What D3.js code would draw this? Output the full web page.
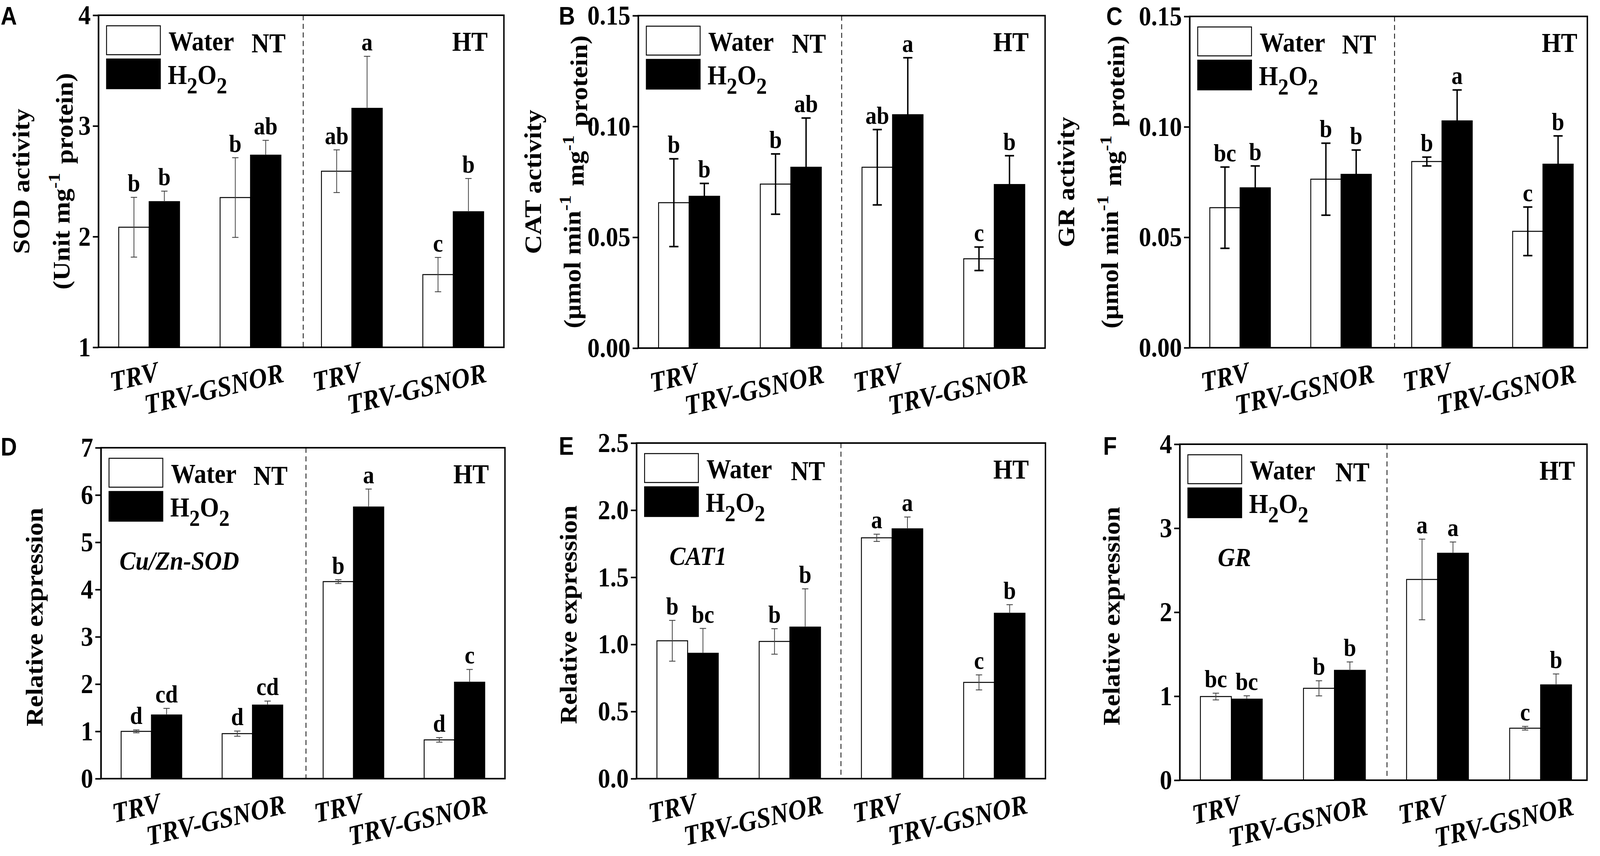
<!DOCTYPE html>
<html><head><meta charset="utf-8">
<script src="https://cdn.jsdelivr.net/npm/d3@7"></script>
<style>html,body{margin:0;padding:0;background:#fff;width:100%;height:100%;overflow:hidden;} svg{display:block;width:100vw;height:100vh;}</style>
</head><body>
<svg id="chart" viewBox="0 0 4550 2191" preserveAspectRatio="none"></svg>
<script>
// ---------- DATA ----------
const categories = ["TRV", "TRV-GSNOR", "TRV", "TRV-GSNOR"];
const seriesNames = ["Water", "H2O2"];
const conditions = ["NT", "HT"];

// A: SOD activity
const sodWater = [2.085, 2.353, 2.591, 1.657];
const sodWaterErr = [0.27, 0.36, 0.193, 0.155];
const sodH2O2 = [2.316, 2.736, 3.159, 2.225];
const sodH2O2Err = [0.095, 0.134, 0.47, 0.30];
const sodWaterSig = ["b", "b", "ab", "c"];
const sodH2O2Sig = ["b", "ab", "a", "b"];
const sodTicks = [1, 2, 3, 4];

// B: CAT activity
const catWater = [0.0656, 0.0740, 0.0816, 0.0403];
const catWaterErr = [0.0198, 0.0136, 0.017, 0.0053];
const catH2O2 = [0.0685, 0.0816, 0.1053, 0.0738];
const catH2O2Err = [0.0058, 0.0222, 0.0257, 0.013];
const catWaterSig = ["b", "b", "ab", "c"];
const catH2O2Sig = ["b", "ab", "a", "b"];
const catTicks = [0, 0.05, 0.10, 0.15];

// C: GR activity
const grWater = [0.0634, 0.0763, 0.0843, 0.0527];
const grWaterErr = [0.0184, 0.0163, 0.002, 0.011];
const grH2O2 = [0.0724, 0.0785, 0.1027, 0.0831];
const grH2O2Err = [0.0099, 0.011, 0.014, 0.0128];
const grWaterSig = ["bc", "b", "b", "c"];
const grH2O2Sig = ["b", "b", "a", "b"];
const grTicks = [0, 0.05, 0.10, 0.15];

// D: Cu/Zn-SOD expression
const sodExpWater = [1.00, 0.952, 4.168, 0.82];
const sodExpWaterErr = [0.03, 0.055, 0.04, 0.048];
const sodExpH2O2 = [1.347, 1.556, 5.746, 2.04];
const sodExpH2O2Err = [0.14, 0.085, 0.38, 0.27];
const sodExpWaterSig = ["d", "d", "b", "d"];
const sodExpH2O2Sig = ["cd", "cd", "a", "c"];
const sodExpTicks = [0, 1, 2, 3, 4, 5, 6, 7];

// E: CAT1 expression
const catExpWater = [1.027, 1.022, 1.794, 0.717];
const catExpWaterErr = [0.152, 0.095, 0.027, 0.056];
const catExpH2O2 = [0.934, 1.129, 1.861, 1.232];
const catExpH2O2Err = [0.185, 0.285, 0.088, 0.064];
const catExpWaterSig = ["b", "b", "a", "c"];
const catExpH2O2Sig = ["bc", "b", "a", "b"];
const catExpTicks = [0, 0.5, 1.0, 1.5, 2.0, 2.5];

// F: GR expression
const grExpWater = [0.996, 1.094, 2.39, 0.619];
const grExpWaterErr = [0.04, 0.09, 0.48, 0.022];
const grExpH2O2 = [0.965, 1.308, 2.702, 1.135];
const grExpH2O2Err = [0.04, 0.10, 0.134, 0.13];
const grExpWaterSig = ["bc", "b", "a", "c"];
const grExpH2O2Sig = ["bc", "b", "a", "b"];
const grExpTicks = [0, 1, 2, 3, 4];

// ---------- PANEL SETUP ----------
const SERIF = "'Liberation Serif','Times New Roman',serif";
const SANS = "'Liberation Sans',Arial,sans-serif";

const panels = [
  {letter: "A", water: sodWater, waterErr: sodWaterErr, h2o2: sodH2O2, h2o2Err: sodH2O2Err,
   waterSig: sodWaterSig, h2o2Sig: sodH2O2Sig, ticks: sodTicks, fmt: d3.format("d"),
   yTitle: [["SOD activity"], ["(Unit mg", {sup: "-1"}, " protein)"]],
   left: 280, right: 1433, top: 39, bottom: 889, xMax: 4.5, divider: 2.52,
   titleX: [60, 175], letterX: 2, letterY: 63, thickErr: false},
  {letter: "B", water: catWater, waterErr: catWaterErr, h2o2: catH2O2, h2o2Err: catH2O2Err,
   waterSig: catWaterSig, h2o2Sig: catH2O2Sig, ticks: catTicks, fmt: d3.format(".2f"),
   yTitle: [["CAT activity"], ["(\u03bcmol min", {sup: "-1"}, " mg", {sup: "-1"}, " protein)"]],
   left: 1815, right: 2972, top: 40, bottom: 891, xMax: 4.5, divider: 2.5,
   titleX: [1515, 1628], letterX: 1589, letterY: 63, thickErr: true},
  {letter: "C", water: grWater, waterErr: grWaterErr, h2o2: grH2O2, h2o2Err: grH2O2Err,
   waterSig: grWaterSig, h2o2Sig: grH2O2Sig, ticks: grTicks, fmt: d3.format(".2f"),
   yTitle: [["GR activity"], ["(\u03bcmol min", {sup: "-1"}, " mg", {sup: "-1"}, " protein)"]],
   left: 3383, right: 4514, top: 42, bottom: 890, xMax: 4.44, divider: 2.53,
   titleX: [3032, 3156], letterX: 3146, letterY: 64, thickErr: true},
  {letter: "D", water: sodExpWater, waterErr: sodExpWaterErr, h2o2: sodExpH2O2, h2o2Err: sodExpH2O2Err,
   waterSig: sodExpWaterSig, h2o2Sig: sodExpH2O2Sig, ticks: sodExpTicks, fmt: d3.format("d"),
   yTitle: [["Relative expression"]], gene: "Cu/Zn-SOD", geneDx: 53,
   left: 287, right: 1436, top: 1146, bottom: 1993, xMax: 4.5, divider: 2.53,
   titleX: [98], letterX: 2, letterY: 1166, thickErr: false},
  {letter: "E", water: catExpWater, waterErr: catExpWaterErr, h2o2: catExpH2O2, h2o2Err: catExpH2O2Err,
   waterSig: catExpWaterSig, h2o2Sig: catExpH2O2Sig, ticks: catExpTicks, fmt: d3.format(".1f"),
   yTitle: [["Relative expression"]], gene: "CAT1", geneDx: 94,
   left: 1810, right: 2973, top: 1134, bottom: 1993, xMax: 4.5, divider: 2.5,
   titleX: [1616], letterX: 1589, letterY: 1164, thickErr: false},
  {letter: "F", water: grExpWater, waterErr: grExpWaterErr, h2o2: grExpH2O2, h2o2Err: grExpH2O2Err,
   waterSig: grExpWaterSig, h2o2Sig: grExpH2O2Sig, ticks: grExpTicks, fmt: d3.format("d"),
   yTitle: [["Relative expression"]], gene: "GR", geneDx: 108,
   left: 3355, right: 4513, top: 1137, bottom: 1997, xMax: 4.45, divider: 2.51,
   titleX: [3161], letterX: 3137, letterY: 1164, thickErr: false}
];

const svg = d3.select("#chart");
svg.append("rect").attr("width", 4550).attr("height", 2191).attr("fill", "#fff");

function addRich(textSel, parts, supSize) {
  parts.forEach(part => {
    if (typeof part === "string") {
      textSel.append("tspan").text(part);
    } else if (part.sup) {
      textSel.append("tspan").attr("dy", "-0.45em").attr("font-size", supSize).text(part.sup);
      textSel.append("tspan").attr("dy", "0.45em").text("\u200a");
    }
  });
}

function drawPanel(p) {
  const g = svg.append("g");
  const x = d3.scaleLinear().domain([0.5, p.xMax]).range([p.left, p.right]);
  const y = d3.scaleLinear().domain([p.ticks[0], p.ticks[p.ticks.length - 1]]).range([p.bottom, p.top]);
  const bw = 0.30;
  const base = p.ticks[0];

  const rows = categories.map((c, i) => ({
    k: i + 1, cat: c,
    water: p.water[i], waterErr: p.waterErr[i], waterSig: p.waterSig[i],
    h2o2: p.h2o2[i], h2o2Err: p.h2o2Err[i], h2o2Sig: p.h2o2Sig[i]
  }));

  // divider
  g.append("line")
    .attr("x1", x(p.divider)).attr("x2", x(p.divider))
    .attr("y1", y.range()[1]).attr("y2", y.range()[0])
    .attr("stroke", "#222").attr("stroke-width", 2.5).attr("stroke-dasharray", "13,9");

  // water bars
  g.selectAll(".wbar").data(rows).join("rect")
    .attr("x", d => x(d.k - bw)).attr("width", d => x(d.k) - x(d.k - bw))
    .attr("y", d => y(d.water)).attr("height", d => y(base) - y(d.water))
    .attr("fill", "#fff").attr("stroke", "#000").attr("stroke-width", 2.5);
  // h2o2 bars
  g.selectAll(".hbar").data(rows).join("rect")
    .attr("x", d => x(d.k)).attr("width", d => x(d.k + bw) - x(d.k))
    .attr("y", d => y(d.h2o2)).attr("height", d => y(base) - y(d.h2o2))
    .attr("fill", "#000").attr("stroke", "#000").attr("stroke-width", 2.5);

  const ec = p.thickErr ? "#000" : "#444";
  const ew = p.thickErr ? 4 : 2.2;
  const cap = p.thickErr ? 13 : 9;
  rows.forEach(d => {
    const cx = x(d.k - bw / 2);
    g.append("line").attr("x1", cx).attr("x2", cx)
      .attr("y1", y(d.water - d.waterErr)).attr("y2", y(d.water + d.waterErr))
      .attr("stroke", ec).attr("stroke-width", ew);
    [d.water - d.waterErr, d.water + d.waterErr].forEach(v => {
      g.append("line").attr("x1", cx - cap).attr("x2", cx + cap)
        .attr("y1", y(v)).attr("y2", y(v)).attr("stroke", ec).attr("stroke-width", ew);
    });
    const hx = x(d.k + bw / 2);
    g.append("line").attr("x1", hx).attr("x2", hx)
      .attr("y1", y(d.h2o2)).attr("y2", y(d.h2o2 + d.h2o2Err))
      .attr("stroke", ec).attr("stroke-width", ew);
    g.append("line").attr("x1", hx - cap).attr("x2", hx + cap)
      .attr("y1", y(d.h2o2 + d.h2o2Err)).attr("y2", y(d.h2o2 + d.h2o2Err))
      .attr("stroke", ec).attr("stroke-width", ew);
  });

  // significance letters
  const sig = [];
  rows.forEach(d => {
    sig.push({x: x(d.k - bw / 2), y: y(d.water + d.waterErr) - 15, t: d.waterSig});
    sig.push({x: x(d.k + bw / 2), y: y(d.h2o2 + d.h2o2Err) - 15, t: d.h2o2Sig});
  });
  g.selectAll(".sig").data(sig).join("text")
    .attr("x", d => d.x).attr("y", d => d.y)
    .attr("text-anchor", "middle").attr("font-family", SERIF).attr("font-weight", "bold")
    .attr("font-size", 64).text(d => d.t);

  // frame
  g.append("rect").attr("x", p.left).attr("y", p.top)
    .attr("width", p.right - p.left).attr("height", p.bottom - p.top)
    .attr("fill", "none").attr("stroke", "#000").attr("stroke-width", 4);

  // y axis
  const ax = g.append("g").attr("transform", `translate(${p.left},0)`)
    .call(d3.axisLeft(y).tickValues(p.ticks).tickFormat(p.fmt).tickSize(16).tickSizeOuter(0).tickPadding(6));
  ax.select(".domain").attr("stroke-width", 4);
  ax.selectAll(".tick line").attr("stroke-width", 4);
  ax.selectAll(".tick text").attr("font-family", SERIF).attr("font-weight", "bold")
    .attr("font-size", 70).attr("fill", "#000");

  // x labels
  rows.forEach(d => {
    const long = d.cat.length > 4;
    const lx = x(d.k) + (long ? -104 : -43);
    const ly = p.bottom + (long ? 106 : 75);
    g.append("text").attr("transform", `translate(${lx},${ly}) rotate(-12)`)
      .attr("text-anchor", "middle").attr("dominant-baseline", "central")
      .attr("font-family", SERIF).attr("font-weight", "bold").attr("font-style", "italic")
      .attr("font-size", 72).text(d.cat);
  });

  // legend
  const lx0 = p.left + 23;
  g.append("rect").attr("x", lx0).attr("y", p.top + 27).attr("width", 153).attr("height", 74)
    .attr("fill", "#fff").attr("stroke", "#000").attr("stroke-width", 2.5);
  g.append("rect").attr("x", lx0).attr("y", p.top + 112).attr("width", 153).attr("height", 76)
    .attr("fill", "#000").attr("stroke", "#000").attr("stroke-width", 2.5);
  g.append("text").attr("x", lx0 + 176).attr("y", p.top + 90)
    .attr("font-family", SERIF).attr("font-weight", "bold").attr("font-size", 70).text(seriesNames[0]);
  const ht = g.append("text").attr("x", lx0 + 174).attr("y", p.top + 176)
    .attr("font-family", SERIF).attr("font-weight", "bold").attr("font-size", 70);
  ht.append("tspan").text("H");
  ht.append("tspan").attr("dy", 24).attr("font-size", 60).text("2");
  ht.append("tspan").attr("dy", -24).text("O");
  ht.append("tspan").attr("dy", 24).attr("font-size", 60).text("2");

  // condition labels
  g.append("text").attr("x", x(2) + 100).attr("y", p.top + 95).attr("text-anchor", "end")
    .attr("font-family", SERIF).attr("font-weight", "bold").attr("font-size", 70).text(conditions[0]);
  g.append("text").attr("x", x(4) + 98).attr("y", p.top + 91).attr("text-anchor", "end")
    .attr("font-family", SERIF).attr("font-weight", "bold").attr("font-size", 70).text(conditions[1]);

  // gene label
  if (p.gene) {
    g.append("text").attr("x", p.left + p.geneDx).attr("y", p.top + 312)
      .attr("font-family", SERIF).attr("font-weight", "bold").attr("font-style", "italic")
      .attr("font-size", 68).text(p.gene);
  }

  // y title
  const midY = (p.top + p.bottom) / 2 + (p.yTitle.length === 1 ? 10 : 0);
  p.yTitle.forEach((parts, li) => {
    const t = g.append("text").attr("transform", `translate(${p.titleX[li]},${midY}) rotate(-90)`)
      .attr("text-anchor", "middle").attr("dominant-baseline", "central")
      .attr("font-family", SERIF).attr("font-weight", "bold").attr("font-size", 68);
    addRich(t, parts, 48);
  });

  // panel letter
  g.append("text").attr("x", p.letterX).attr("y", p.letterY)
    .attr("font-family", SANS).attr("font-weight", "bold").attr("font-size", 64).text(p.letter);
}

panels.forEach(drawPanel);
</script>
</body></html>
